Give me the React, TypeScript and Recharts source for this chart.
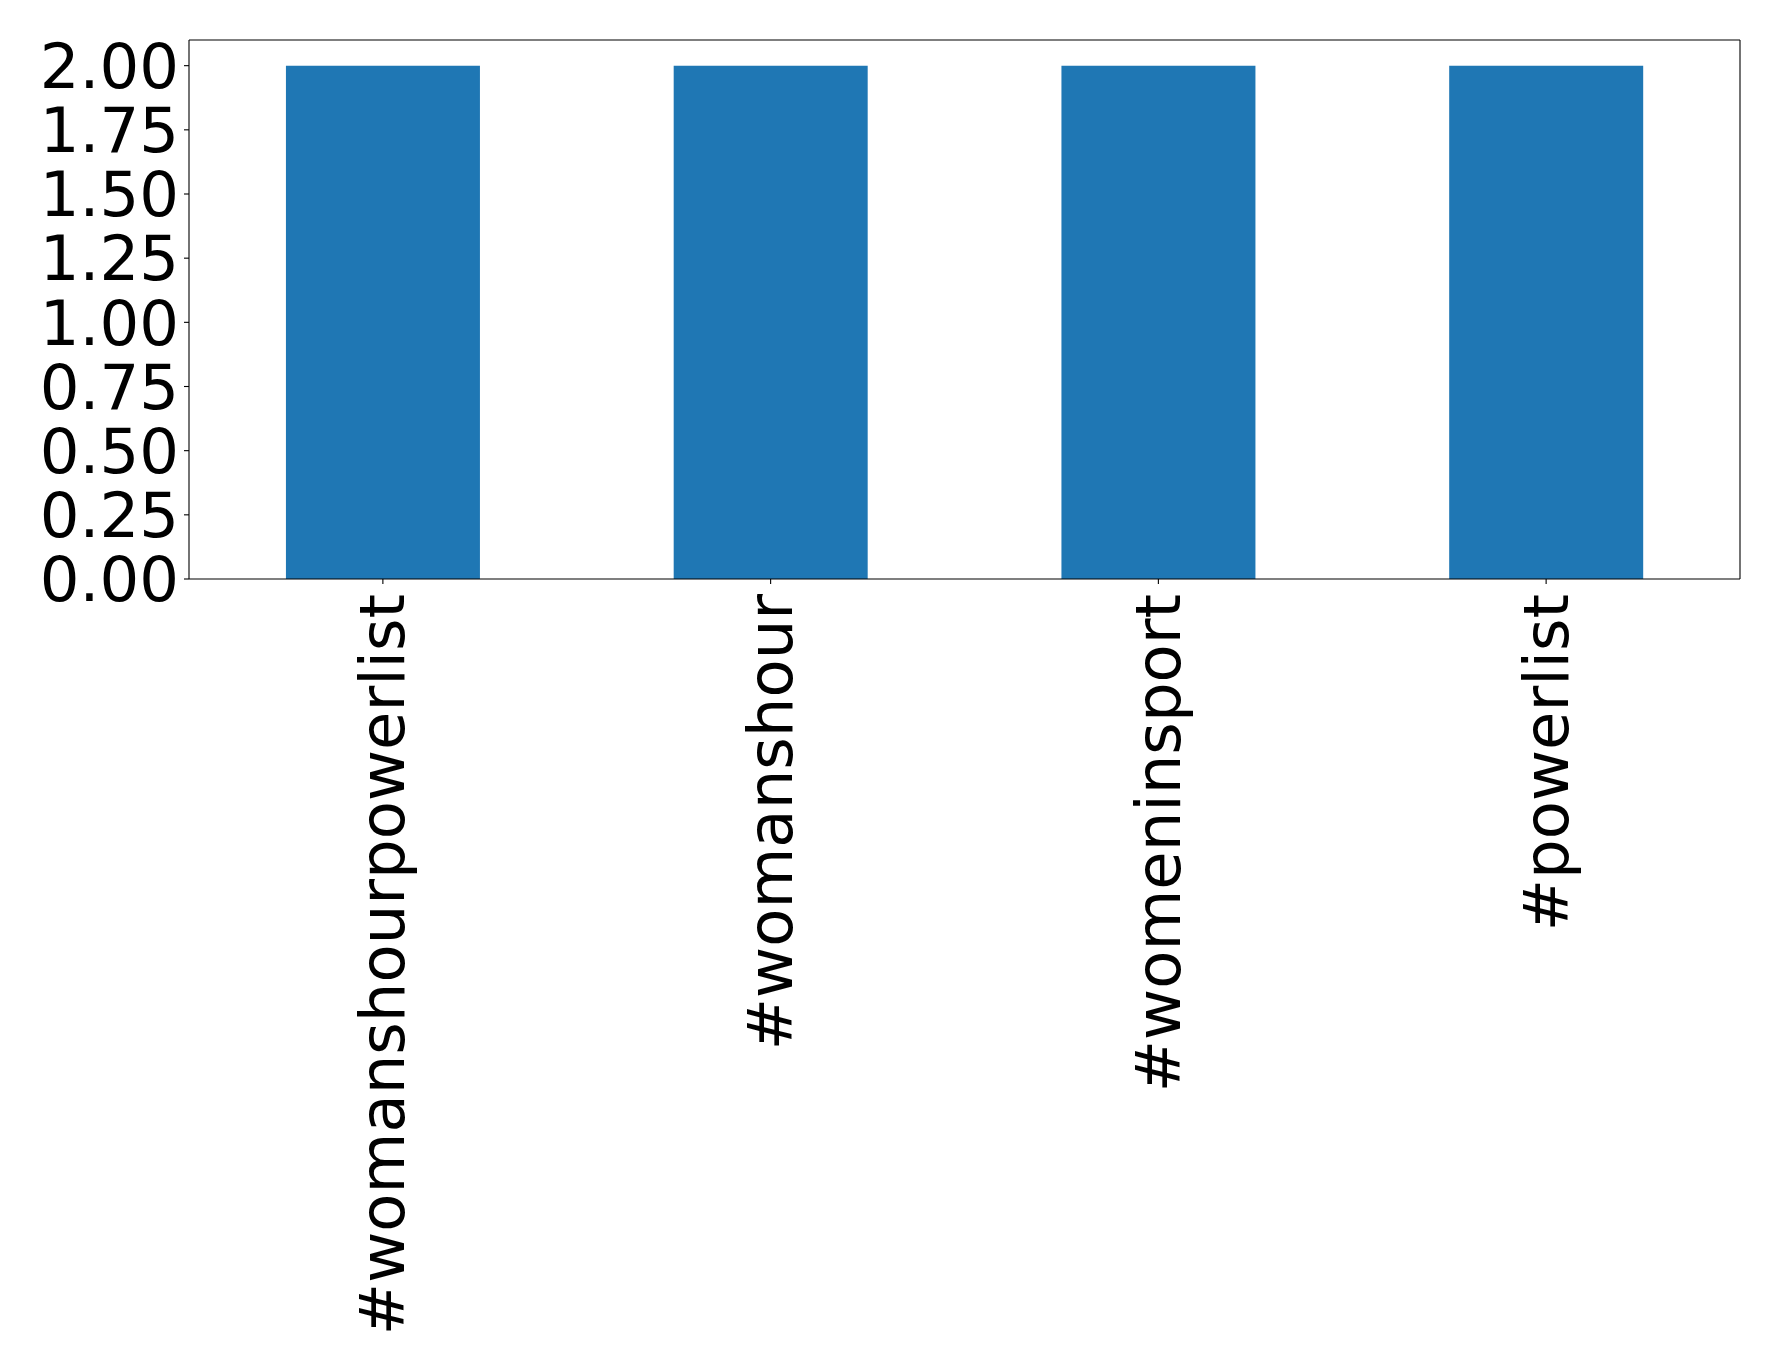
import React from "react";
import { BarChart, Bar, XAxis, YAxis } from "recharts";

const categories = ["#womanshourpowerlist", "#womanshour", "#womeninsport", "#powerlist"];
const counts = [2, 2, 2, 2];
const yTicks = [0, 0.25, 0.5, 0.75, 1.0, 1.25, 1.5, 1.75, 2.0];

const data = categories.map((name, i) => ({ name, value: counts[i] }));

const FONT = "DejaVu Sans";
const FS = 62.5;

const XTick = (props: any) => {
  const { x, y, payload } = props;
  return (
    <text
      x={x}
      y={y}
      transform={`rotate(-90, ${x}, ${y})`}
      textAnchor="end"
      dominantBaseline="central"
      fontFamily={FONT}
      fontSize={FS}
      fill="#000"
    >
      {payload.value}
    </text>
  );
};

export default function App() {
  return (
    <div style={{ position: "absolute", left: 0, top: 0, background: "#fff" }}>
      <BarChart
        width={1778}
        height={1369}
        data={data}
        margin={{ top: 39, right: 37, bottom: 0, left: 0 }}
        barCategoryGap="25%"
      >
        <XAxis
          dataKey="name"
          height={790}
          interval={0}
          tick={<XTick />}
          tickSize={5}
          tickMargin={10}
          stroke="#000"
          axisLine={{ stroke: "#000", strokeWidth: 1.1 }}
          tickLine={{ stroke: "#000", strokeWidth: 1.1 }}
        />
        <XAxis
          xAxisId="top"
          dataKey="name"
          orientation="top"
          height={1}
          tick={false}
          tickLine={false}
          stroke="#000"
          axisLine={{ stroke: "#000", strokeWidth: 1.1 }}
        />
        <YAxis
          width={189}
          domain={[0, 2.1]}
          ticks={yTicks}
          interval={0}
          tickFormatter={(v: number) => v.toFixed(2)}
          tickSize={5}
          tickMargin={5}
          stroke="#000"
          tick={{ fontFamily: FONT, fontSize: FS, fill: "#000" }}
          axisLine={{ stroke: "#000", strokeWidth: 1.1 }}
          tickLine={{ stroke: "#000", strokeWidth: 1.1 }}
        />
        <YAxis
          yAxisId="right"
          orientation="right"
          width={1}
          domain={[0, 2.1]}
          tick={false}
          tickLine={false}
          stroke="#000"
          axisLine={{ stroke: "#000", strokeWidth: 1.1 }}
        />
        <Bar dataKey="value" fill="#1f77b4" isAnimationActive={false} />
      </BarChart>
    </div>
  );
}
